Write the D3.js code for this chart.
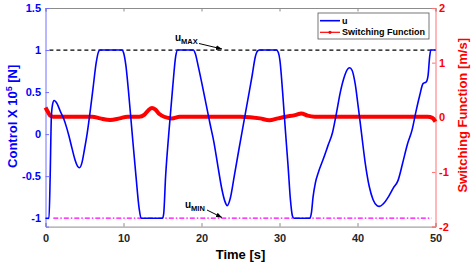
<!DOCTYPE html>
<html>
<head>
<meta charset="utf-8">
<script src="https://cdn.jsdelivr.net/npm/d3@7"></script>
<style>
  body { margin: 0; background: #fff; }
  svg { display: block; font-family: "Liberation Sans", Arial, Helvetica, sans-serif; font-weight: bold; }
</style>
</head>
<body>
<div id="chart"></div>
<script>
// control u (x 10^5 N) over time
const timeU = [0, 0.45, 0.6, 0.75, 0.9, 1.1, 1.5, 1.9, 2.35, 2.7, 3.0, 3.4, 3.8, 4.1, 4.35, 4.7, 5.0, 5.33, 5.7, 6.1, 6.5, 6.8, 7.0,
  9.8, 10.0, 10.3, 10.65, 11.1, 11.6, 12.0, 12.25, 15.0, 15.15, 15.4, 15.8, 16.3, 16.7, 16.95,
  18.95, 19.2, 19.6, 20.1, 20.6, 21.1, 21.6, 22.1, 22.6, 23.0, 23.3, 23.7, 24.2, 24.8, 25.4, 26.0, 26.5, 26.9, 27.2, 27.45,
  29.6, 29.85, 30.05, 30.4, 30.75, 31.1, 31.4, 31.65, 31.85, 33.9, 34.1, 34.3, 34.6, 35.0, 35.6, 36.2, 36.8, 37.3, 37.8, 38.3, 38.8, 39.0, 39.3, 39.7, 40.1, 40.5,
  41.0, 41.5, 42.0, 42.5, 42.8, 43.3, 44.0, 44.6, 45.2, 45.8, 46.4, 47.0, 47.5, 47.95, 48.4, 48.8, 49.05, 49.25, 49.4, 50];
const controlU = [-1, -1, -0.5, 0.2, 0.35, 0.40, 0.36, 0.27, 0.18, 0.08, -0.02, -0.17, -0.31, -0.38, -0.40, -0.33, -0.18, 0.0, 0.25, 0.55, 0.85, 0.98, 1.0,
  1.0, 0.97, 0.82, 0.5, 0.02, -0.5, -0.88, -1.0, -1.0, -0.95, -0.5, 0.0, 0.55, 0.93, 1.0,
  1.0, 0.96, 0.8, 0.58, 0.35, 0.12, -0.1, -0.38, -0.65, -0.8, -0.85, -0.76, -0.5, -0.18, 0.13, 0.44, 0.7, 0.92, 0.99, 1.0,
  1.0, 0.97, 0.88, 0.5, 0.05, -0.38, -0.78, -0.97, -1.0, -1.0, -0.93, -0.75, -0.58, -0.45, -0.3, -0.14, 0.02, 0.25, 0.5, 0.68, 0.78, 0.79, 0.76, 0.6, 0.32, 0.02,
  -0.35, -0.62, -0.78, -0.85, -0.86, -0.83, -0.74, -0.64, -0.55, -0.34, -0.12, 0.05, 0.27, 0.45, 0.6, 0.62, 0.7, 0.92, 1.0, 1.0];

// switching function (m/s) over time
const timeS = [0, 0.3, 0.6, 1.0, 4, 6, 7, 8.3, 9.5, 10.5, 12, 12.7, 13.2, 13.65, 14.1, 14.6, 15.2, 16.2, 17.2, 20, 25, 27.5, 28.7, 29.8, 30.8, 32, 32.8, 33.6, 34.5, 40, 45, 49, 49.6, 50];
const switchS = [0.18, 0.1, 0.03, 0.01, 0.01, 0.01, -0.02, -0.05, -0.02, 0.01, 0.01, 0.05, 0.13, 0.17, 0.14, 0.06, 0.01, -0.02, 0.01, 0.01, 0.01, -0.02, -0.055, -0.02, 0.01, 0.04, 0.07, 0.03, 0.01, 0.01, 0.01, 0.01, -0.01, -0.08];

// bounds
const uMaxLine = [[0.5, 1], [50, 1]];
const uMinLine = [[1, -1], [49.5, -1]];

const xTicks = [0, 10, 20, 30, 40, 50];
const leftTicks = [-1, -0.5, 0, 0.5, 1, 1.5];
const rightTicks = [-2, -1, 0, 1, 2];

const margin = { top: 8, right: 35.5, bottom: 37.4, left: 45.5 };
const width = 471 - margin.left - margin.right;
const height = 264 - margin.top - margin.bottom;

const svg = d3.select("#chart")
    .append("svg")
    .attr("width", 471)
    .attr("height", 264)
    .append("g")
    .attr("transform", `translate(${margin.left},${margin.top})`);

const x = d3.scaleLinear().domain([0, 50]).range([0, width]);
const yL = d3.scaleLinear().domain([-1.1, 1.5]).range([height, 0]);
const yR = d3.scaleLinear().domain([-2, 2]).range([height, 0]);

// top border with ticks
svg.append("g")
    .call(d3.axisTop(x).tickValues(xTicks).tickSize(-3.5).tickFormat(""))
    .call(g => g.selectAll("path, line").attr("stroke", "#8c8c8c"));

// bottom axis
svg.append("g")
    .attr("transform", `translate(0,${height})`)
    .call(d3.axisBottom(x).tickValues(xTicks).tickSize(-3.5).tickPadding(8))
    .call(g => g.selectAll("path, line").attr("stroke", "#8c8c8c"))
    .call(g => g.selectAll("text").attr("fill", "#262626").style("font-size", "11px").style("font-weight", "bold"));

// left axis
svg.append("g")
    .call(d3.axisLeft(yL).tickValues(leftTicks).tickSize(-3.5).tickPadding(4.5).tickFormat(d => String(d)))
    .call(g => g.selectAll("path, line").attr("stroke", "#7070ff"))
    .call(g => g.selectAll("text").attr("fill", "#0000ff").style("font-size", "11px").style("font-weight", "bold"));

// right axis
svg.append("g")
    .attr("transform", `translate(${width},0)`)
    .call(d3.axisRight(yR).tickValues(rightTicks).tickSize(-3.5).tickPadding(3.5).tickFormat(d => String(d)))
    .call(g => g.selectAll("path, line").attr("stroke", "#ff7070"))
    .call(g => g.selectAll("text").attr("fill", "#ff0000").style("font-size", "11px").style("font-weight", "bold"));

// limit lines
const limLine = d3.line().x(d => x(d[0])).y(d => yL(d[1]));
svg.append("path")
    .attr("d", limLine(uMaxLine))
    .attr("fill", "none")
    .attr("stroke", "#000")
    .attr("stroke-width", 1.2)
    .attr("stroke-dasharray", "4,3");
svg.append("path")
    .attr("d", limLine(uMinLine))
    .attr("fill", "none")
    .attr("stroke", "#ff00ff")
    .attr("stroke-width", 1.2)
    .attr("stroke-dasharray", "5,2,1.5,2");

// switching function
const sLine = d3.line()
    .x((d, i) => x(timeS[i]))
    .y(d => yR(d))
    .curve(d3.curveMonotoneX);
svg.append("path")
    .attr("d", sLine(switchS))
    .attr("fill", "none")
    .attr("stroke", "#ff0000")
    .attr("stroke-width", 4);

// control
const uLine = d3.line()
    .x((d, i) => x(timeU[i]))
    .y(d => yL(d))
    .curve(d3.curveMonotoneX);
svg.append("path")
    .attr("d", uLine(controlU))
    .attr("fill", "none")
    .attr("stroke", "#0000ff")
    .attr("stroke-width", 1.6);

// annotations u_MAX / u_MIN
svg.append("defs").append("marker")
    .attr("id", "arrow")
    .attr("viewBox", "0 0 10 10")
    .attr("refX", 10).attr("refY", 5)
    .attr("markerWidth", 6).attr("markerHeight", 6)
    .attr("orient", "auto")
    .append("path")
    .attr("d", "M0,1 L10,5 L0,9 Z")
    .attr("fill", "#000");

function annotate(tx, ty, sub, x1, y1, x2, y2) {
    const t = svg.append("text")
        .attr("x", tx - margin.left)
        .attr("y", ty - margin.top)
        .attr("fill", "#000")
        .style("font-size", "10px");
    t.append("tspan").text("u");
    t.append("tspan").attr("dy", 3).style("font-size", "7.5px").text(sub);
    svg.append("line")
        .attr("x1", x1 - margin.left).attr("y1", y1 - margin.top)
        .attr("x2", x2 - margin.left).attr("y2", y2 - margin.top)
        .attr("stroke", "#000")
        .attr("stroke-width", 1)
        .attr("marker-end", "url(#arrow)");
}
annotate(175, 41, "MAX", 199, 43.5, 222, 49);
annotate(185, 208.3, "MIN", 207, 210, 222, 217.5);

// legend
const legend = svg.append("g").attr("transform", `translate(${318 - margin.left},${13 - margin.top})`);
legend.append("rect")
    .attr("width", 111).attr("height", 26)
    .attr("fill", "#fff").attr("stroke", "#555").attr("stroke-width", 0.8);
legend.append("line").attr("x1", 2).attr("x2", 22).attr("y1", 7.7).attr("y2", 7.7)
    .attr("stroke", "#0000ff").attr("stroke-width", 1.6);
legend.append("line").attr("x1", 2).attr("x2", 22).attr("y1", 19.3).attr("y2", 19.3)
    .attr("stroke", "#ff0000").attr("stroke-width", 1.2);
legend.append("circle").attr("cx", 12).attr("cy", 19.3).attr("r", 1.6).attr("fill", "#ff0000");
legend.append("text").attr("x", 24).attr("y", 10.5).style("font-size", "9px").attr("fill", "#000").text("u");
legend.append("text").attr("x", 24).attr("y", 22.2).style("font-size", "9px").attr("fill", "#000").text("Switching Function");

// axis labels
svg.append("text")
    .attr("x", width / 2)
    .attr("y", height + 32.5)
    .attr("text-anchor", "middle")
    .attr("fill", "#000")
    .style("font-size", "13px")
    .text("Time [s]");

const yl = svg.append("text")
    .attr("transform", `translate(${-29},${height / 2 - 1}) rotate(-90)`)
    .attr("text-anchor", "middle")
    .attr("fill", "#0000ff")
    .style("font-size", "13px");
yl.append("tspan").text("Control X 10");
yl.append("tspan").attr("dy", -5).style("font-size", "9px").text("5");
yl.append("tspan").attr("dy", 5).text(" [N]");

svg.append("text")
    .attr("transform", `translate(${width + 31},${height / 2 - 2}) rotate(-90)`)
    .attr("text-anchor", "middle")
    .attr("fill", "#ff0000")
    .style("font-size", "13px")
    .text("Switching Function [m/s]");
</script>
</body>
</html>
